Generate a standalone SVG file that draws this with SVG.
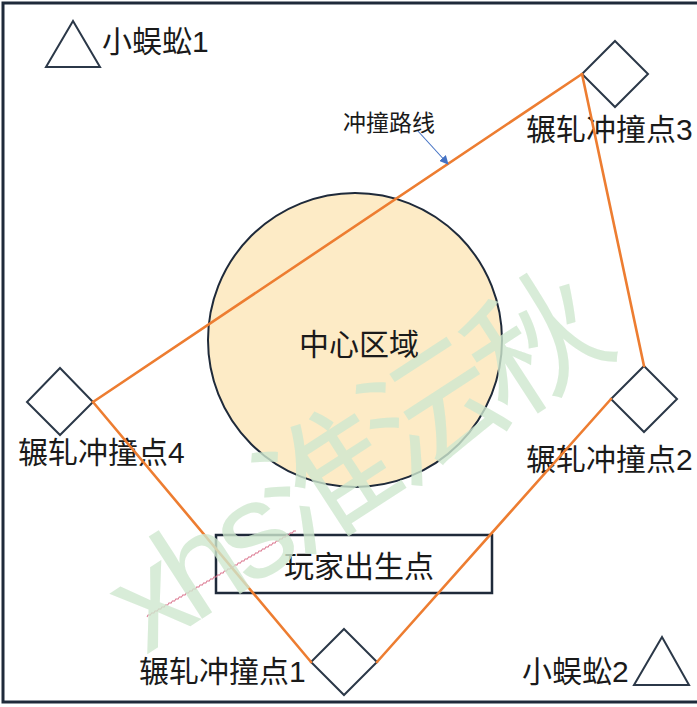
<svg xmlns="http://www.w3.org/2000/svg" width="697" height="707" viewBox="0 0 697 707">
<defs>
<style>
.lbl{font-family:"Liberation Sans","Noto Sans CJK SC",sans-serif;font-size:30px;fill:#1a1a1a}
.small{font-size:23px}
.shape{fill:#fff;stroke:#2b3848;stroke-width:2}
.route{stroke:#ed7d31;stroke-width:2.6;fill:none;stroke-linecap:round}
.wm{font-family:"Liberation Sans","Noto Sans CJK SC",sans-serif;font-size:135px;letter-spacing:-10px;fill:#cfe8cf;opacity:0.8}
</style>
<marker id="arr" viewBox="0 0 10 10" refX="9" refY="5" markerWidth="9" markerHeight="9" markerUnits="userSpaceOnUse" orient="auto">
<path d="M0,0 L10,5 L0,10 z" fill="#4472c4"/>
</marker>
</defs>
<rect x="0" y="0" width="697" height="707" fill="#fff"/>
<rect x="3" y="3" width="710" height="699" fill="none" stroke="#1f2a3a" stroke-width="3"/>

<g id="center">
<circle cx="355" cy="340" r="147" fill="#fdebc6" stroke="#1f2a3a" stroke-width="2"/>
<text class="lbl" x="359" y="355" text-anchor="middle">中心区域</text>
</g>

<g id="spawn">
<rect x="216" y="535" width="276" height="58" fill="none" stroke="#1f2a3a" stroke-width="2.5"/>
<text class="lbl" x="359" y="577" text-anchor="middle">玩家出生点</text>
</g>

<g id="centipede1">
<polygon class="shape" points="73,21 46,67 100,67"/>
<text class="lbl" x="102" y="52">小蜈蚣1</text>
</g>

<g id="centipede2">
<polygon class="shape" points="662,637 634,685 689,685"/>
<text class="lbl" x="522" y="682">小蜈蚣2</text>
</g>

<g id="point3">
<polygon class="shape" points="615,41 648,74 615,107 582,74"/>
<text class="lbl" x="526" y="140">辗轧冲撞点3</text>
</g>

<g id="point4">
<polygon class="shape" points="60,368 93,402 60,435 27,402"/>
<text class="lbl" x="18" y="463">辗轧冲撞点4</text>
</g>

<g id="point2">
<polygon class="shape" points="644,366 677,399 644,432 611,399"/>
<text class="lbl" x="526" y="470">辗轧冲撞点2</text>
</g>

<g id="point1">
<polygon class="shape" points="344,629 377,662 344,695 311,662"/>
<text class="lbl" x="139" y="682">辗轧冲撞点1</text>
</g>

<g id="connectors">
<line class="route" x1="93" y1="402" x2="582" y2="74"/>
<line class="route" x1="582" y1="74" x2="644" y2="366"/>
<line class="route" x1="611" y1="399" x2="377" y2="662"/>
<line class="route" x1="311" y1="662" x2="93" y2="402"/>
<line x1="417" y1="130" x2="448" y2="164" stroke="#4472c4" stroke-width="1.1" marker-end="url(#arr)"/>
</g>

<g id="route-label">
<text class="lbl small" x="343" y="131">冲撞路线</text>
</g>

<g id="squiggle" transform="translate(147,617) rotate(-30)">
<path d="M0,0 l2,-1.3 2,1.3 2,-1.3 2,1.3 2,-1.3 2,1.3 2,-1.3 2,1.3 2,-1.3 2,1.3 2,-1.3 2,1.3 2,-1.3 2,1.3 2,-1.3 2,1.3 2,-1.3 2,1.3 2,-1.3 2,1.3 2,-1.3 2,1.3 2,-1.3 2,1.3 2,-1.3 2,1.3 2,-1.3 2,1.3 2,-1.3 2,1.3 2,-1.3 2,1.3 2,-1.3 2,1.3 2,-1.3 2,1.3 2,-1.3 2,1.3 2,-1.3 2,1.3 2,-1.3 2,1.3 2,-1.3 2,1.3 2,-1.3 2,1.3 2,-1.3 2,1.3 2,-1.3 2,1.3 2,-1.3 2,1.3 2,-1.3 2,1.3 2,-1.3 2,1.3 2,-1.3 2,1.3 2,-1.3 2,1.3 2,-1.3 2,1.3 2,-1.3 2,1.3 2,-1.3 2,1.3 2,-1.3 2,1.3 2,-1.3 2,1.3 2,-1.3 2,1.3 2,-1.3 2,1.3 2,-1.3 2,1.3 2,-1.3 2,1.3 2,-1.3 2,1.3 2,-1.3 2,1.3 2,-1.3 2,1.3 2,-1.3 2,1.3" fill="none" stroke="#d9708a" stroke-width="0.9"/>
</g>

<g id="watermark">
<text class="wm" transform="translate(146,655) rotate(-33)">xhs淮沄秋</text>
</g>
</svg>
